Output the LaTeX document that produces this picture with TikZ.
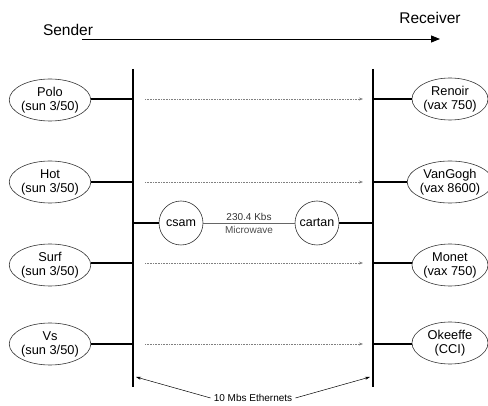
\documentclass[tikz,border=0pt]{standalone}
\usepackage{fontspec}
\setmainfont{Liberation Sans}
\usetikzlibrary{arrows.meta,shapes.geometric}
\begin{document}
\begin{tikzpicture}[x=1pt,y=-1pt,
  host/.style={draw=black!80,ellipse,line width=0.6pt,minimum width=78pt,minimum height=42pt,inner sep=0pt,align=center,font=\fontsize{12.8}{14}\selectfont},
  gw/.style={draw=black!80,circle,line width=0.6pt,minimum size=44pt,inner sep=0pt,font=\fontsize{12.5}{14}\selectfont},
  bus/.style={line width=2.4pt},
  tap/.style={line width=2pt},
  flow/.style={densely dotted,draw=black!50,line width=0.6pt,-{Stealth[length=4pt,width=3pt]}},
  small/.style={font=\fontsize{10}{11}\selectfont},
  lbl/.style={font=\fontsize{15.5}{18}\selectfont,inner sep=0pt}]
\useasboundingbox (0,0) rectangle (488,406);
% headers
\node[lbl] (snd) at (68,30) {Sender};
\node[lbl] (rcv) at (430,18) {Receiver};
\coordinate (a1) at (82,39);
\coordinate (a2) at (440,39);
\draw[line width=0.8pt,-{Triangle[length=9pt,width=7pt]}] (a1) -- (a2);
% buses
\coordinate (lt) at (133,69); \coordinate (lb) at (133,387);
\coordinate (rt) at (373,69); \coordinate (rb) at (373,387);
\draw[bus] (lt) -- (lb);
\draw[bus] (rt) -- (rb);
% hosts
\node[host] (polo) at (50,100) {Polo\\(sun 3/50)};
\node[host] (hot) at (50,182) {Hot\\(sun 3/50)};
\node[host] (surf) at (50,265) {Surf\\(sun 3/50)};
\node[host] (vs) at (50,344) {Vs\\(sun 3/50)};
\node[host,minimum width=76pt] (renoir) at (450,99) {Renoir\\(vax 750)};
\node[host,minimum width=76pt] (vangogh) at (450,182) {VanGogh\\(vax 8600)};
\node[host,minimum width=76pt] (monet) at (450,265) {Monet\\(vax 750)};
\node[host,minimum width=76pt] (okeeffe) at (450,343) {Okeeffe\\(CCI)};
% taps
\foreach \n/\y in {polo/99,hot/182,surf/263,vs/344}{
  \coordinate (L\n) at (133,\y);
  \draw[tap] (\n.east |- L\n) -- (L\n);
}
\foreach \n/\y in {renoir/99,vangogh/182,monet/263,okeeffe/344}{
  \coordinate (R\n) at (373,\y);
  \draw[tap] (R\n) -- (\n.west |- R\n);
}
% gateways
\node[gw] (csam) at (181,223) {csam};
\node[gw] (cartan) at (317,223) {cartan};
\coordinate (Lg) at (133,223); \coordinate (Rg) at (373,223);
\draw[tap] (Lg) -- (csam.west);
\draw[tap] (cartan.east) -- (Rg);
\draw[draw=black!60,line width=0.9pt] (csam.east) -- node[above=-1pt,small,text=black!80]{230.4 Kbs} node[below=-1pt,small,text=black!70]{Microwave} (cartan.west);
% flows
\foreach \y in {99,182,263,344}{
  \coordinate (fs\y) at (145,\y); \coordinate (fe\y) at (363,\y);
  \draw[flow] (fs\y) -- (fe\y);
}
% ethernet label
\node[small,inner sep=3pt] (eth) at (253,398) {10 Mbs Ethernets};
\coordinate (le) at (136,377); \coordinate (re) at (370,377);
\draw[line width=0.5pt,-{Stealth[length=5pt,width=3pt]}] (eth.west) -- (le);
\draw[line width=0.5pt,-{Stealth[length=5pt,width=3pt]}] (eth.east) -- (re);
\end{tikzpicture}
\end{document}
